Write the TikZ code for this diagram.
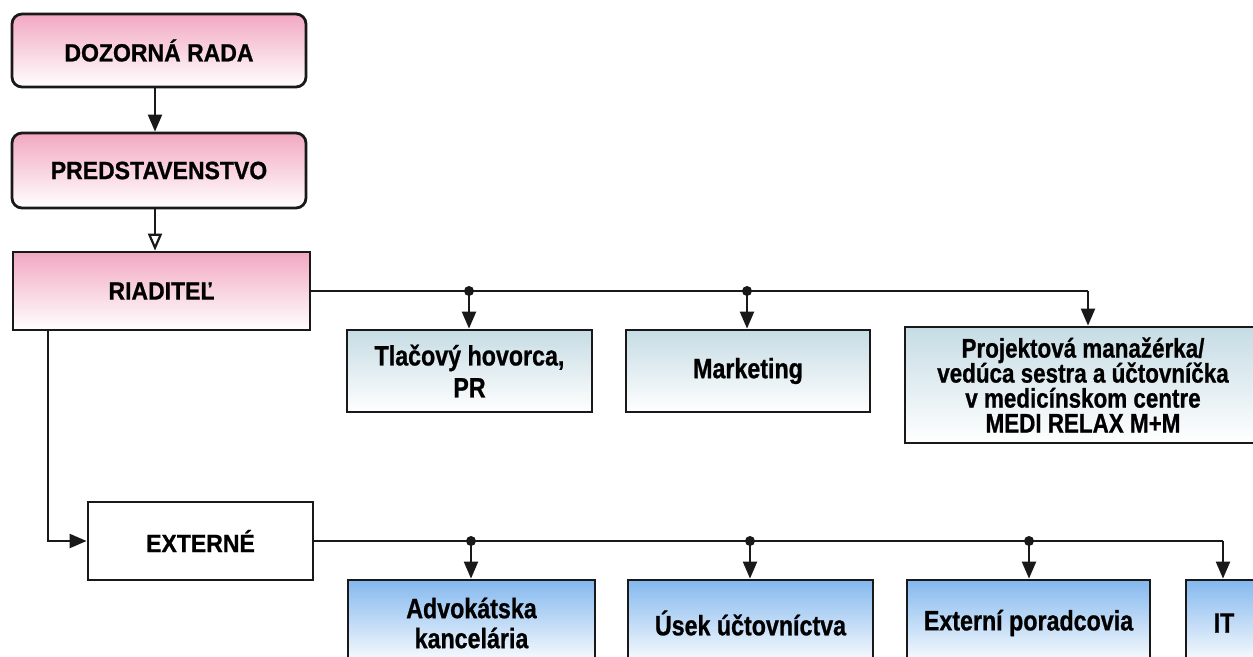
\documentclass[tikz,border=0pt]{standalone}
\usepackage{fontspec}
\setmainfont{Liberation Sans}
\newfontfamily\topf{Liberation Sans}[FakeStretch=0.92,FakeBold=0.8]
\newfontfamily\lowf{Liberation Sans}[FakeStretch=0.83,FakeBold=0.8]
\usetikzlibrary{arrows.meta}
\definecolor{pinktop}{RGB}{242,168,194}
\definecolor{tealtop}{RGB}{198,220,228}
\definecolor{bluetop}{RGB}{132,184,238}
\definecolor{ink}{RGB}{25,25,25}
\newcommand{\tightlines}{\lineskiplimit=-50pt\relax}
\begin{document}
\begin{tikzpicture}[x=1pt,y=-1pt,
  box/.style={draw=ink, line width=2.8pt, inner sep=0pt, align=center},
  topbox/.style={box, top color=pinktop, bottom color=white,
     font=\topf\bfseries\fontsize{25}{28}\selectfont},
  extbox/.style={box, fill=white, font=\topf\bfseries\fontsize{25}{28}\selectfont},
  midbox/.style={box, top color=tealtop, bottom color=white,
     font=\lowf\bfseries\fontsize{28}{32}\selectfont\tightlines},
  lowbox/.style={box, top color=bluetop, bottom color=white,
     font=\lowf\bfseries\fontsize{28}{30}\selectfont\tightlines},
  conn/.style={draw=ink, line width=2.2pt},
  arr/.style={-{Triangle[length=17pt,width=14pt]}},
  oarr/.style={-{Triangle[open,length=17pt,width=14pt,fill=white]}},
  jdot/.style={fill=ink}
]
\useasboundingbox (0,0) rectangle (1253,656);
\clip (0,0) rectangle (1253,656);
\fill[white] (0,0) rectangle (1253,656);

% top chain
\node[topbox, rounded corners=10pt, minimum width=294pt, minimum height=73pt] (dozor) at (159,50.5) {DOZORNÁ RADA};
\node[topbox, rounded corners=10pt, minimum width=294pt, minimum height=75pt] (pred) at (159,170.5) {PREDSTAVENSTVO};
\node[topbox, minimum width=297pt, minimum height=78pt] (riad) at (161.5,291) {RIADITEĽ};

% middle row
\node[midbox, minimum width=245pt, minimum height=82pt] (tlac) at (469.5,371) {Tlačový hovorca,\\PR};
\node[midbox, minimum width=244pt, minimum height=82pt] (mark) at (748,371) {Marketing};
\node[midbox, minimum width=356pt, minimum height=116pt,
      font=\lowf\bfseries\fontsize{27}{25}\selectfont\tightlines] (proj) at (1083,385)
  {Projektová manažérka/\\vedúca sestra a účtovníčka\\v medicínskom centre\\MEDI RELAX M+M};

% externe
\node[extbox, minimum width=225pt, minimum height=78pt] (ext) at (200.5,541) {EXTERNÉ};

% bottom row
\node[lowbox, minimum width=247pt, minimum height=86pt] (adv) at (471.5,623) {Advokátska\\kancelária};
\node[lowbox, minimum width=245pt, minimum height=86pt] (usek) at (750.5,623) {Úsek účtovníctva};
\node[lowbox, minimum width=243pt, minimum height=86pt] (extp) at (1028.5,623) {Externí poradcovia};
\node[lowbox, minimum width=76pt, minimum height=86pt] (it) at (1224,623) {IT};

% connectors top chain
\draw[conn,arr] ([xshift=-4pt]dozor.south) -- ([xshift=-4pt]pred.north);
\draw[conn,oarr] ([xshift=-4pt]pred.south) -- ([xshift=-6.5pt]riad.north);

% riaditel branch
\coordinate (r1) at (469,291);
\coordinate (r2) at (747,291);
\coordinate (r3) at (1088,291);
\draw[conn] (riad.east) -- (r3);
\draw[conn,arr] (r1) -- (r1 |- tlac.north);
\draw[conn,arr] (r2) -- (r2 |- mark.north);
\draw[conn,arr] (r3) -- (r3 |- proj.north);
\fill[jdot] (r1) circle (5);
\fill[jdot] (r2) circle (5);

% riaditel to externe
\draw[conn,arr] ([xshift=36pt]riad.south west) |- (ext.west);

% externe branch
\coordinate (e1) at (471,541);
\coordinate (e2) at (750,541);
\coordinate (e3) at (1029,541);
\coordinate (e4) at (1223,541);
\draw[conn] (ext.east) -- (e4);
\draw[conn,arr] (e1) -- (e1 |- adv.north);
\draw[conn,arr] (e2) -- (e2 |- usek.north);
\draw[conn,arr] (e3) -- (e3 |- extp.north);
\draw[conn,arr] (e4) -- (e4 |- it.north);
\fill[jdot] (e1) circle (5);
\fill[jdot] (e2) circle (5);
\fill[jdot] (e3) circle (5);
\end{tikzpicture}
\end{document}
